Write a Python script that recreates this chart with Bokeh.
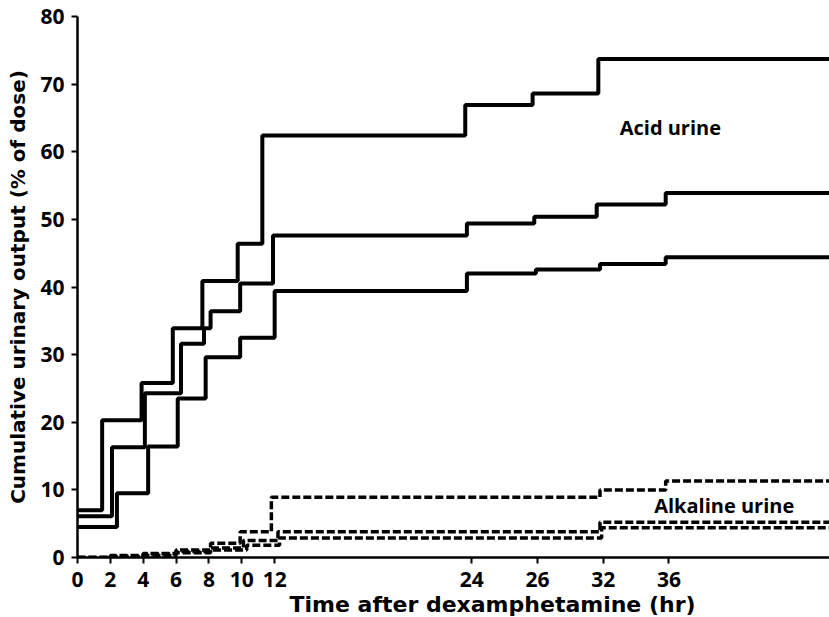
from bokeh.plotting import figure
from bokeh.models import Range1d, FixedTicker, Label, Title
from bokeh.embed import file_html
from bokeh.resources import INLINE

# ---- data (time in hr, cumulative % of dose) ----
acid1_t = [0, 1.5, 3.9, 5.8, 7.6, 9.75, 11.25, 23.6, 27.7, 31.7, 46]
acid1_v = [7.0, 20.3, 25.8, 33.9, 40.9, 46.4, 62.4, 66.9, 68.6, 73.7, 73.7]

acid2_t = [0, 2.1, 4.1, 6.3, 7.7, 8.1, 9.9, 11.9, 23.7, 27.8, 31.6, 35.8, 46]
acid2_v = [6.1, 16.3, 24.3, 31.6, 33.9, 36.4, 40.5, 47.6, 49.4, 50.4, 52.2, 53.9, 53.9]

acid3_t = [0, 2.4, 4.3, 6.1, 7.8, 9.9, 12.0, 23.7, 27.9, 31.8, 35.8, 46]
acid3_v = [4.5, 9.5, 16.4, 23.5, 29.6, 32.5, 39.4, 42.0, 42.6, 43.4, 44.4, 44.4]

alk1_t = [0, 2, 4, 6, 8.1, 9.9, 11.8, 31.8, 35.8, 46]
alk1_v = [0, 0.3, 0.6, 1.1, 2.1, 3.8, 8.9, 10.0, 11.3, 11.3]

alk2_t = [0, 2, 4, 6, 8.1, 10.1, 12.2, 31.8, 46]
alk2_v = [0, 0.2, 0.5, 0.9, 1.4, 2.5, 3.8, 5.2, 5.2]

alk3_t = [0, 2, 4, 6, 8.1, 10.3, 12.3, 31.9, 46]
alk3_v = [0, 0.1, 0.3, 0.7, 1.1, 1.8, 2.9, 4.4, 4.4]

x_ticks = [0, 2, 4, 6, 8, 10, 12, 24, 28, 32, 36]
x_tick_labels = ["0", "2", "4", "6", "8", "10", "12", "24", "26", "32", "36"]
y_ticks = [0, 10, 20, 30, 40, 50, 60, 70, 80]

x_title = "Time after dexamphetamine (hr)"
y_title = "Cumulative urinary output (% of dose)"

FONT = "Open Sans"
TFONT = "DejaVu Sans"

W, H = 829, 617
LEFT, TOP, BOTTOM = 77, 16, 60
PX_PER_HR = 16.43
x_end = (W - LEFT) / PX_PER_HR

p = figure(width=W, height=H, output_backend="svg", toolbar_location=None,
           x_range=Range1d(0, x_end), y_range=Range1d(0, 80),
           min_border_left=LEFT, min_border_right=0, min_border_top=TOP,
           min_border_bottom=BOTTOM)
p.outline_line_color = None
p.grid.visible = False
p.background_fill_color = "white"
p.border_fill_color = "white"

for t, v in [(acid1_t, acid1_v), (acid2_t, acid2_v), (acid3_t, acid3_v)]:
    p.step(t, v, mode="after", line_color="black", line_width=4)
for t, v in [(alk1_t, alk1_v), (alk2_t, alk2_v), (alk3_t, alk3_v)]:
    p.step(t, v, mode="after", line_color="black", line_width=3.5, line_dash="8 3")

p.xaxis.ticker = FixedTicker(ticks=x_ticks)
p.xaxis.major_label_overrides = {k: s for k, s in zip(x_ticks, x_tick_labels)}
p.yaxis.ticker = FixedTicker(ticks=y_ticks)

for ax in (p.xaxis[0], p.yaxis[0]):
    ax.axis_line_width = 2.5
    ax.axis_line_color = "black"
    ax.major_tick_line_width = 2
    ax.major_tick_line_color = "black"
    ax.major_tick_out = 6
    ax.major_tick_in = 0
    ax.minor_tick_line_color = None
    ax.major_label_text_font = FONT
    ax.major_label_text_font_style = "bold"
    ax.major_label_text_font_size = "21px"
    ax.major_label_text_color = "black"

p.xaxis.major_label_standoff = 8
p.yaxis.major_label_standoff = 7

p.yaxis.axis_label = y_title
p.yaxis.axis_label_text_font = TFONT
p.yaxis.axis_label_text_font_style = "bold"
p.yaxis.axis_label_text_font_size = "20px"
p.yaxis.axis_label_text_color = "black"
p.yaxis.axis_label_standoff = 7

# x title sits off-centre in the reference: a left-aligned title below, shifted
p.add_layout(Title(text=x_title, align="left", offset=289 - LEFT,
                   text_font=TFONT, text_font_style="bold",
                   text_font_size="22px", text_color="black", standoff=0),
             "below")

p.add_layout(Label(x=33.0, y=63.6, text="Acid urine", text_font=FONT,
                   text_font_style="bold", text_font_size="20px",
                   text_baseline="middle", text_color="black"))
p.add_layout(Label(x=35.1, y=7.7, text="Alkaline urine", text_font=FONT,
                   text_font_style="bold", text_font_size="20px",
                   text_baseline="middle", text_color="black"))

open("out.html", "w").write(file_html(p, INLINE))
